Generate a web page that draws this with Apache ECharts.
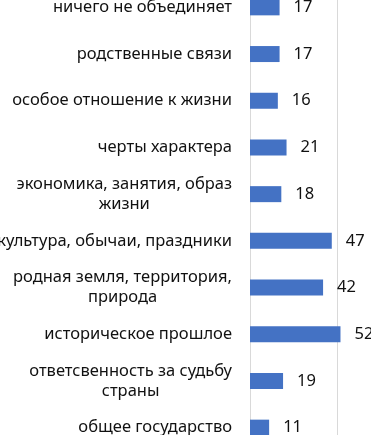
<!DOCTYPE html>
<html>
<head>
<meta charset="utf-8">
<script src="https://cdn.jsdelivr.net/npm/echarts@6/dist/echarts.min.js"></script>
<style>
  html, body { margin: 0; padding: 0; background: #fff; overflow: hidden; }
  body { position: relative; width: 371px; height: 435px; }
  /* исходная картинка обрезана сверху и снизу */
  #chart { position: absolute; left: 0; top: -16px; width: 371px; height: 467px; }
</style>
</head>
<body>
<div id="chart"></div>
<script>
// категории сверху вниз
const categories = [
  "ничего не объединяет",
  "родственные связи",
  "особое отношение к жизни",
  "черты характера",
  "экономика, занятия, образ\nжизни",
  "культура, обычаи, праздники",
  "родная земля, территория,\nприрода",
  "историческое прошлое",
  "ответсвенность за судьбу\nстраны",
  "общее государство",
];
const values = [17, 17, 16, 21, 18, 47, 42, 52, 19, 11];

const chart = echarts.init(document.getElementById("chart"));

const options = {
  animation: false,
  textStyle: { fontFamily: "Noto Sans" },
  grid: {
    left: 250,
    right: 34,
    top: 0,
    bottom: 0,
    containLabel: false,
    outerBoundsMode: "none", // подписи слева обрезаны, как в оригинале
  },
  xAxis: {
    type: "value",
    min: 0,
    max: 50,
    interval: 50,
    axisLabel: { show: false },
    axisLine: { show: false },
    axisTick: { show: false },
    splitLine: { lineStyle: { color: "#d9d9d9", width: 1 } },
  },
  yAxis: {
    type: "category",
    inverse: true,
    data: categories,
    axisTick: { show: false },
    axisLine: { show: true, lineStyle: { color: "#d9d9d9" } },
    axisLabel: {
      margin: 18,
      fontSize: 16.5,
      color: "#111",
      // многострочные подписи центрируются построчно
      formatter: (v) =>
        v.indexOf("\n") >= 0
          ? v.split("\n").map((s) => "{c|" + s + "}").join("\n")
          : v,
      rich: {
        c: { align: "center", fontSize: 16.5, lineHeight: 20, color: "#111" },
      },
    },
  },
  series: [
    {
      type: "bar",
      data: values,
      barWidth: 16,
      clip: false,
      itemStyle: { color: "#4472c4" },
      label: {
        show: true,
        position: "right",
        distance: 14,
        fontSize: 16.5,
        color: "#111",
      },
    },
  ],
};

chart.setOption(options);
window.addEventListener("resize", () => chart.resize());
</script>
</body>
</html>
